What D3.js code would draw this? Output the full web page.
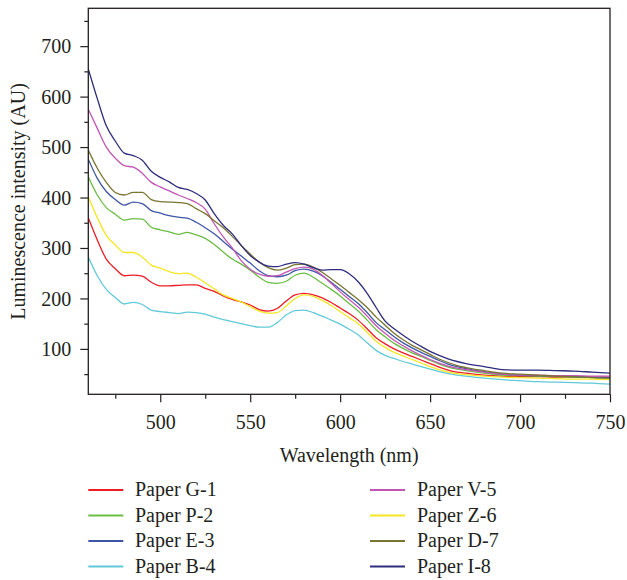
<!DOCTYPE html>
<html>
<head>
<meta charset="utf-8">
<script src="https://cdn.jsdelivr.net/npm/d3@7/dist/d3.min.js"></script>
<style>
  html, body { margin: 0; padding: 0; background: #fff; }
  svg { display: block; }
  text { font-family: "Liberation Serif", "DejaVu Serif", serif; fill: #231f20; }
</style>
</head>
<body>
<script>
// Emission wavelengths (nm) shared by every spectrum
const wavelengths = [460,465,470,475,480,485,490,495,500,505,510,515,520,525,530,535,540,545,550,555,560,565,570,575,580,585,590,595,600,605,610,615,620,625,630,635,640,645,650,655,660,665,670,680,690,700,710,720,730,740,750];

// Luminescence intensity (AU) of each paper sample
const paperG1 = [360,316,278,259,245,246,244,232,225,225,226,227,227,220,214,205,198,193,187,178,175,180,195,207,210,207,201,192,181,170,157,140,122,110,100,92,85,78,71,64,58,54,52,48,46,45,45,44,44,44,44];
const paperP2 = [441,405,380,367,355,358,357,341,336,332,327,331,326,319,307,292,278,268,256,242,232,230,234,246,250,242,230,218,205,190,175,157,138,124,111,101,92,85,77,70,64,60,57,52,48,47,46,45,44,43,42];
const paperE3 = [476,438,412,396,385,391,388,374,369,364,361,359,351,340,328,313,298,284,270,255,245,243,246,255,258,254,245,232,218,204,190,172,152,138,124,112,102,93,85,77,70,65,61,55,50,48,47,46,45,44,43];
const paperB4 = [282,245,218,202,189,192,188,177,174,172,170,173,172,169,163,158,154,150,146,143,143,152,167,176,177,172,165,157,149,139,128,112,97,87,81,75,70,65,60,55,51,48,46,42,39,37,35,34,33,32,30];
const paperV5 = [575,537,500,478,463,460,448,430,421,413,405,398,390,377,348,322,300,275,258,248,244,245,252,259,262,258,246,230,213,198,183,165,146,131,117,106,96,87,79,72,66,62,59,54,50,48,48,47,47,46,46];
const paperZ6 = [402,360,325,306,291,291,282,266,260,253,249,250,242,231,219,207,200,193,184,175,171,172,185,200,207,204,196,186,174,162,150,133,115,103,93,86,79,72,65,59,54,51,49,46,44,43,42,41,40,40,39];
const paperD7 = [494,458,430,410,405,410,410,396,392,391,390,388,378,368,354,340,323,305,288,272,261,256,260,267,268,262,252,239,226,212,198,182,163,147,131,118,107,98,89,80,73,67,63,57,52,50,48,46,45,43,42];
const paperI8 = [655,596,542,512,488,483,474,452,440,431,420,416,408,395,368,345,328,305,285,272,264,263,268,271,268,261,256,257,257,249,233,210,182,155,140,127,115,105,95,87,80,75,71,65,59,58,58,57,56,54,52];

const seriesNames = ["Paper G-1","Paper P-2","Paper E-3","Paper B-4","Paper V-5","Paper Z-6","Paper D-7","Paper I-8"];
const seriesValues = [paperG1,paperP2,paperE3,paperB4,paperV5,paperZ6,paperD7,paperI8];
const seriesColors = ["#ee1c24","#6cbd45","#3d56a6","#62c9d9","#c255b4","#f4e623","#7a7431","#2e2c7c"];

// Axis ticks
const xMajorTicks = [500,550,600,650,700,750];
const xMinorTicks = [475,525,575,625,675,725];
const yMajorTicks = [100,200,300,400,500,600,700];
const yMinorTicks = [50,150,250,350,450,550,650,750];

const W = 627, H = 580;
const plot = { left: 88.3, right: 610, top: 8.3, bottom: 394.3 };
const ink = "#231f20";

const svg = d3.select("body").append("svg").attr("width", W).attr("height", H);

const x = d3.scaleLinear().domain([460, 750]).range([plot.left, plot.right]);
const y = d3.scaleLinear().domain([10, 775]).range([plot.bottom, plot.top]);

svg.append("defs").append("clipPath").attr("id", "plot-clip")
  .append("rect")
  .attr("x", plot.left).attr("y", plot.top)
  .attr("width", plot.right - plot.left).attr("height", plot.bottom - plot.top);

// Spectra
const line = d3.line()
  .x((d, i) => x(wavelengths[i]))
  .y(d => y(d))
  .curve(d3.curveMonotoneX);

svg.append("g").attr("clip-path", "url(#plot-clip)")
  .selectAll("path")
  .data(seriesValues)
  .join("path")
  .attr("d", d => line(d))
  .attr("fill", "none")
  .attr("stroke", (d, i) => seriesColors[i])
  .attr("stroke-width", 1.3)
  .attr("stroke-linejoin", "round");

// Frame
svg.append("rect")
  .attr("x", plot.left).attr("y", plot.top)
  .attr("width", plot.right - plot.left).attr("height", plot.bottom - plot.top)
  .attr("fill", "none").attr("stroke", ink).attr("stroke-width", 1.3);

// Bottom axis
const xAxis = svg.append("g").attr("transform", `translate(0,${plot.bottom})`);
xAxis.call(d3.axisBottom(x).tickValues(xMajorTicks).tickSize(8).tickSizeOuter(0).tickPadding(13).tickFormat(d3.format("d")));
xAxis.append("g").call(d3.axisBottom(x).tickValues(xMinorTicks).tickSize(4.5).tickSizeOuter(0).tickFormat(""));
xAxis.selectAll(".domain").remove();
xAxis.selectAll("line").attr("stroke", ink).attr("stroke-width", 1.2);
xAxis.selectAll("text").attr("font-size", 20).attr("fill", ink)
  .attr("font-family", "Liberation Serif, DejaVu Serif, serif")
  .attr("dy", null).attr("y", 35);

// Left axis
const yAxis = svg.append("g").attr("transform", `translate(${plot.left},0)`);
yAxis.call(d3.axisLeft(y).tickValues(yMajorTicks).tickSize(8).tickSizeOuter(0).tickPadding(9).tickFormat(d3.format("d")));
yAxis.append("g").call(d3.axisLeft(y).tickValues(yMinorTicks).tickSize(4).tickSizeOuter(0).tickFormat(""));
yAxis.selectAll(".domain").remove();
yAxis.selectAll("line").attr("stroke", ink).attr("stroke-width", 1.2);
yAxis.selectAll("text").attr("font-size", 20).attr("fill", ink)
  .attr("font-family", "Liberation Serif, DejaVu Serif, serif")
  .attr("x", -17).attr("dy", "0.34em");

// Axis titles
svg.append("text")
  .attr("x", (plot.left + plot.right) / 2).attr("y", 462)
  .attr("text-anchor", "middle").attr("font-size", 20)
  .text("Wavelength (nm)");

svg.append("text")
  .attr("transform", `translate(25,${201.5}) rotate(-90)`)
  .attr("text-anchor", "middle").attr("font-size", 20)
  .text("Luminescence intensity (AU)");

// Legend in two columns of four
const legendCols = [{ x0: 88.3, x1: 123.3, tx: 135 }, { x0: 370, x1: 405, tx: 417 }];
const legend = svg.append("g");
seriesNames.forEach((name, i) => {
  const col = legendCols[Math.floor(i / 4)];
  const ly = 490 + (i % 4) * 25.5;
  legend.append("line")
    .attr("x1", col.x0).attr("x2", col.x1).attr("y1", ly).attr("y2", ly)
    .attr("stroke", seriesColors[i]).attr("stroke-width", 1.8);
  legend.append("text")
    .attr("x", col.tx).attr("y", ly + 6)
    .attr("font-size", 20)
    .text(name);
});
</script>
</body>
</html>
